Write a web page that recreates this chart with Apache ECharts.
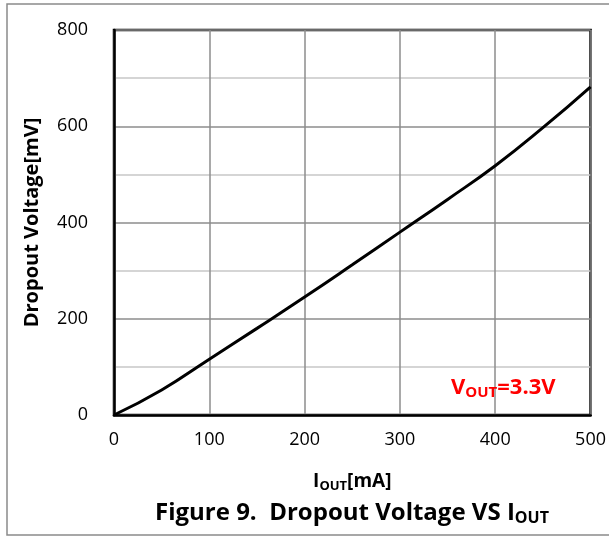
<!DOCTYPE html>
<html>
<head>
<meta charset="utf-8">
<script src="https://cdn.jsdelivr.net/npm/echarts@6/dist/echarts.min.js"></script>
<style>
  html, body { margin: 0; padding: 0; background: #fff; }
  #main { width: 609px; height: 537px; }
</style>
</head>
<body>
<div id="main"></div>
<script>
// values (mA -> mV)
var iout = [0, 50, 100, 150, 200, 250, 300, 350, 400, 450, 500];
var dropout = [0, 52, 116, 180, 245, 312, 380, 448, 518, 597, 682];
var xTicks = [0, 100, 200, 300, 400, 500];
var yTicks = [0, 200, 400, 600, 800];

var font = '"Open Sans", "Liberation Sans", sans-serif';

var chart = echarts.init(document.getElementById('main'), null, { renderer: 'canvas' });

var points = iout.map(function (x, i) { return [x, dropout[i]]; });

chart.setOption({
  animation: false,
  backgroundColor: '#fff',
  grid: {
    left: 114, right: 16, top: 30, bottom: 122,
    show: true, borderColor: '#000', borderWidth: 2.5, backgroundColor: 'transparent'
  },
  xAxis: {
    type: 'value',
    min: xTicks[0], max: xTicks[xTicks.length - 1], interval: 100,
    axisLine: { show: true, lineStyle: { color: '#000', width: 2.5 } },
    axisTick: { show: false },
    axisLabel: { color: '#000', fontSize: 18, fontFamily: font, margin: 16 },
    splitLine: { show: true, lineStyle: { color: '#8c8c8c', width: 1.5 } },
    name: '{b|I}{s|OUT}{b|[mA]}',
    nameLocation: 'middle',
    nameGap: 56,
    nameTextStyle: {
      rich: {
        b: { fontSize: 19, fontWeight: 'bold', fontFamily: font, color: '#000' },
        s: { fontSize: 13, fontWeight: 'bold', fontFamily: font, color: '#000', verticalAlign: 'bottom', padding: [9, 0, 0, 0] }
      }
    }
  },
  yAxis: {
    type: 'value',
    min: yTicks[0], max: yTicks[yTicks.length - 1], interval: 200,
    axisLine: { show: true, lineStyle: { color: '#000', width: 2.5 } },
    axisTick: { show: false },
    axisLabel: { color: '#000', fontSize: 18, fontFamily: font, margin: 26 },
    splitLine: { show: true, lineStyle: { color: '#8c8c8c', width: 1.5 } },
    minorTick: { show: false, splitNumber: 2 },
    minorSplitLine: { show: true, lineStyle: { color: '#c8c8c8', width: 1.5 } },
    name: 'Dropout Voltage[mV]',
    nameLocation: 'middle',
    nameGap: 72,
    nameTextStyle: { fontSize: 20, fontWeight: 'bold', fontFamily: font, color: '#000' }
  },
  series: [{
    type: 'line',
    data: points,
    smooth: 0.5,
    showSymbol: false,
    lineStyle: { color: '#000', width: 3 },
    z: 5
  }],
  graphic: [
    {
      type: 'rect', silent: true,
      shape: { x: 7, y: 4, width: 620, height: 531 },
      style: { fill: 'none', stroke: '#8a8a8a', lineWidth: 1.5 }
    },
    {
      type: 'text', left: 451, top: 377, z: 10,
      style: {
        text: '{b|V}{s|OUT}{b|=3.3V}',
        rich: {
          b: { fontSize: 22, fontWeight: 'bold', fontFamily: font, fill: '#ff0000' },
          s: { fontSize: 15, fontWeight: 'bold', fontFamily: font, fill: '#ff0000', verticalAlign: 'bottom', padding: [10, 0, 0, 0] }
        }
      }
    },
    {
      type: 'text', left: 155, top: 501, z: 10,
      style: {
        text: '{b|Figure 9.  Dropout Voltage VS I}{s|OUT}',
        rich: {
          b: { fontSize: 24, fontWeight: 'bold', fontFamily: font, fill: '#000' },
          s: { fontSize: 16, fontWeight: 'bold', fontFamily: font, fill: '#000', verticalAlign: 'bottom', padding: [11, 0, 0, 0] }
        }
      }
    }
  ]
});
</script>
</body>
</html>
